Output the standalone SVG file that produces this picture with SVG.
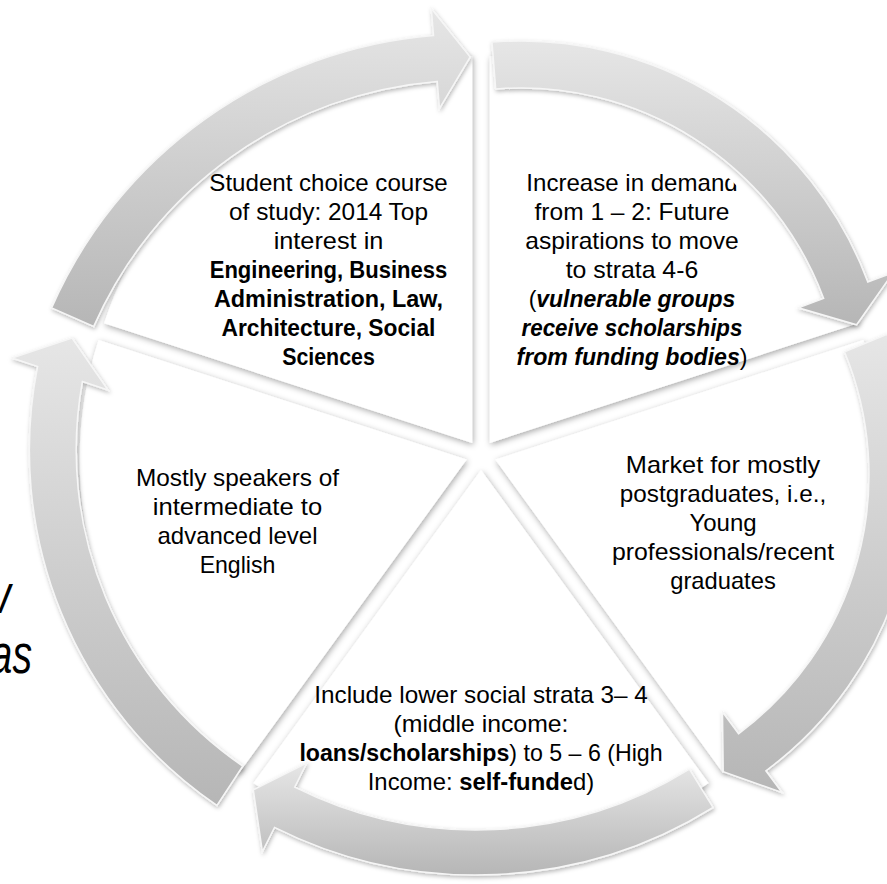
<svg xmlns="http://www.w3.org/2000/svg" width="887" height="884" viewBox="0 0 887 884">
<defs>
<style>
.w{fill:#ffffff;filter:url(#ws)}
.ar{fill:url(#ag);stroke:#f6f6f6;stroke-width:1.5;filter:url(#ash)}
text{font-family:"Liberation Sans",Arial,sans-serif;font-size:24px;fill:#000000;text-anchor:middle}
.b{font-weight:bold}
.bi{font-weight:bold;font-style:italic}
.frag{font-style:italic;font-size:56px;text-anchor:end}
</style>
<linearGradient id="ag" x1="0" y1="0" x2="0" y2="1">
<stop offset="0" stop-color="#e6e6e6"/>
<stop offset="1" stop-color="#b6b6b6"/>
</linearGradient>
<filter id="ws" x="-10%" y="-10%" width="120%" height="120%">
<feDropShadow dx="1" dy="2" stdDeviation="3" flood-color="#000000" flood-opacity="0.35"/>
</filter>
<filter id="ash" x="-10%" y="-10%" width="120%" height="120%">
<feDropShadow dx="1" dy="2" stdDeviation="2" flood-color="#000000" flood-opacity="0.28"/>
</filter>
<clipPath id="trclip"><circle cx="521" cy="411" r="312"/></clipPath>
</defs>
<rect width="887" height="884" fill="#ffffff"/>

<g id="node-choice">
<path class="w" d="M472.2 442.9 L104.1 323.3 A387 387 0 0 1 472.2 55.9 Z"/>
<text x="328.5" y="191" textLength="238.3" lengthAdjust="spacingAndGlyphs">Student choice course</text>
<text x="328.5" y="220" textLength="198.9" lengthAdjust="spacingAndGlyphs">of study: 2014 Top</text>
<text x="328.5" y="249" textLength="109.7" lengthAdjust="spacingAndGlyphs">interest in</text>
<text class="b" x="328.5" y="278" textLength="237.6" lengthAdjust="spacingAndGlyphs">Engineering, Business</text>
<text class="b" x="328.5" y="307" textLength="229.2" lengthAdjust="spacingAndGlyphs">Administration, Law,</text>
<text class="b" x="328.5" y="336" textLength="213.9" lengthAdjust="spacingAndGlyphs">Architecture, Social</text>
<text class="b" x="328.5" y="365" textLength="92.7" lengthAdjust="spacingAndGlyphs">Sciences</text>
</g>

<g id="node-demand">
<path class="w" d="M489.8 442.9 L489.8 55.9 A387 387 0 0 1 857.9 323.3 Z"/>
<g clip-path="url(#trclip)">
<text x="632" y="191" textLength="211.3" lengthAdjust="spacingAndGlyphs">Increase in demand</text>
<text x="632" y="220" textLength="194.9" lengthAdjust="spacingAndGlyphs">from 1 – 2: Future</text>
<text x="632" y="249" textLength="213.3" lengthAdjust="spacingAndGlyphs">aspirations to move</text>
<text x="632" y="278" textLength="132.6" lengthAdjust="spacingAndGlyphs">to strata 4-6</text>
<text x="632" y="307" textLength="206.7" lengthAdjust="spacingAndGlyphs">(<tspan class="bi">vulnerable groups</tspan></text>
<text class="bi" x="632" y="336" textLength="220.8" lengthAdjust="spacingAndGlyphs">receive scholarships</text>
<text x="632" y="365" textLength="231.1" lengthAdjust="spacingAndGlyphs"><tspan class="bi">from funding bodies</tspan>)</text>
</g>
</g>

<g id="node-market">
<path class="w" d="M495.3 459.6 L863.4 340.0 A387 387 0 0 1 722.8 772.7 Z"/>
<text x="723" y="473" textLength="194.5" lengthAdjust="spacingAndGlyphs">Market for mostly</text>
<text x="723" y="502" textLength="206.4" lengthAdjust="spacingAndGlyphs">postgraduates, i.e.,</text>
<text x="723" y="531" textLength="67.2" lengthAdjust="spacingAndGlyphs">Young</text>
<text x="723" y="560" textLength="222.1" lengthAdjust="spacingAndGlyphs">professionals/recent</text>
<text x="723" y="589" textLength="105.5" lengthAdjust="spacingAndGlyphs">graduates</text>
</g>

<g id="node-strata">
<path class="w" d="M481 470 L708.5 783.1 A387 387 0 0 1 253.5 783.1 Z"/>
<text x="481" y="703" textLength="333.4" lengthAdjust="spacingAndGlyphs">Include lower social strata 3– 4</text>
<text x="481" y="732" textLength="175" lengthAdjust="spacingAndGlyphs">(middle income:</text>
<text x="481" y="761" textLength="363.2" lengthAdjust="spacingAndGlyphs"><tspan class="b">loans/scholarships</tspan>) to 5 – 6 (High</text>
<text x="481" y="790" textLength="226.5" lengthAdjust="spacingAndGlyphs">Income: <tspan class="b">self-funde</tspan>d)</text>
</g>

<g id="node-english">
<path class="w" d="M466.7 459.6 L239.2 772.7 A387 387 0 0 1 98.6 340.0 Z"/>
<text x="237.5" y="486" textLength="203" lengthAdjust="spacingAndGlyphs">Mostly speakers of</text>
<text x="237.5" y="515" textLength="169.3" lengthAdjust="spacingAndGlyphs">intermediate to</text>
<text x="237.5" y="544" textLength="160" lengthAdjust="spacingAndGlyphs">advanced level</text>
<text x="237.5" y="573" textLength="75.7" lengthAdjust="spacingAndGlyphs">English</text>
</g>

<g id="connectors">
<path id="arrow-1" class="ar" d="M51.6 307.9 A458 458 0 0 1 433.5 35.5 L431.3 8.6 L470.2 57 L439.5 108.3 L437.2 81.4 A412 412 0 0 0 93.7 326.4 Z"/>
<path id="arrow-2" class="ar" d="M492.0 42.1 A370 370 0 0 1 867.8 282.0 L893.1 272.6 L856.6 324.8 L798.4 307.8 L823.7 298.4 A323 323 0 0 0 495.7 89.0 Z"/>
<path id="arrow-3" class="ar" d="M887.0 334.2 A368 368 0 0 1 765.9 770.8 L782.0 792.5 L723.2 771.6 L722.5 712.1 L738.5 733.8 A322 322 0 0 0 844.5 351.8 Z"/>
<path id="arrow-4" class="ar" d="M713.1 807.5 A450 450 0 0 1 274.5 827.4 L262.4 851.5 L253.3 789.9 L306.7 763.0 L294.7 787.1 A405 405 0 0 0 689.4 769.2 Z"/>
<path id="arrow-5" class="ar" d="M216.9 805.4 A430 430 0 0 1 37.6 366.5 L12 358 L72 338 L108 390 L82.4 381.5 A383 383 0 0 0 242.7 766.1 Z"/>
</g>

<g id="margin-text">
<text class="frag" transform="scale(0.7,1)" x="16" y="613">v</text>
<text class="frag" transform="scale(0.7,1)" x="45.7" y="673">as</text>
</g>
</svg>
